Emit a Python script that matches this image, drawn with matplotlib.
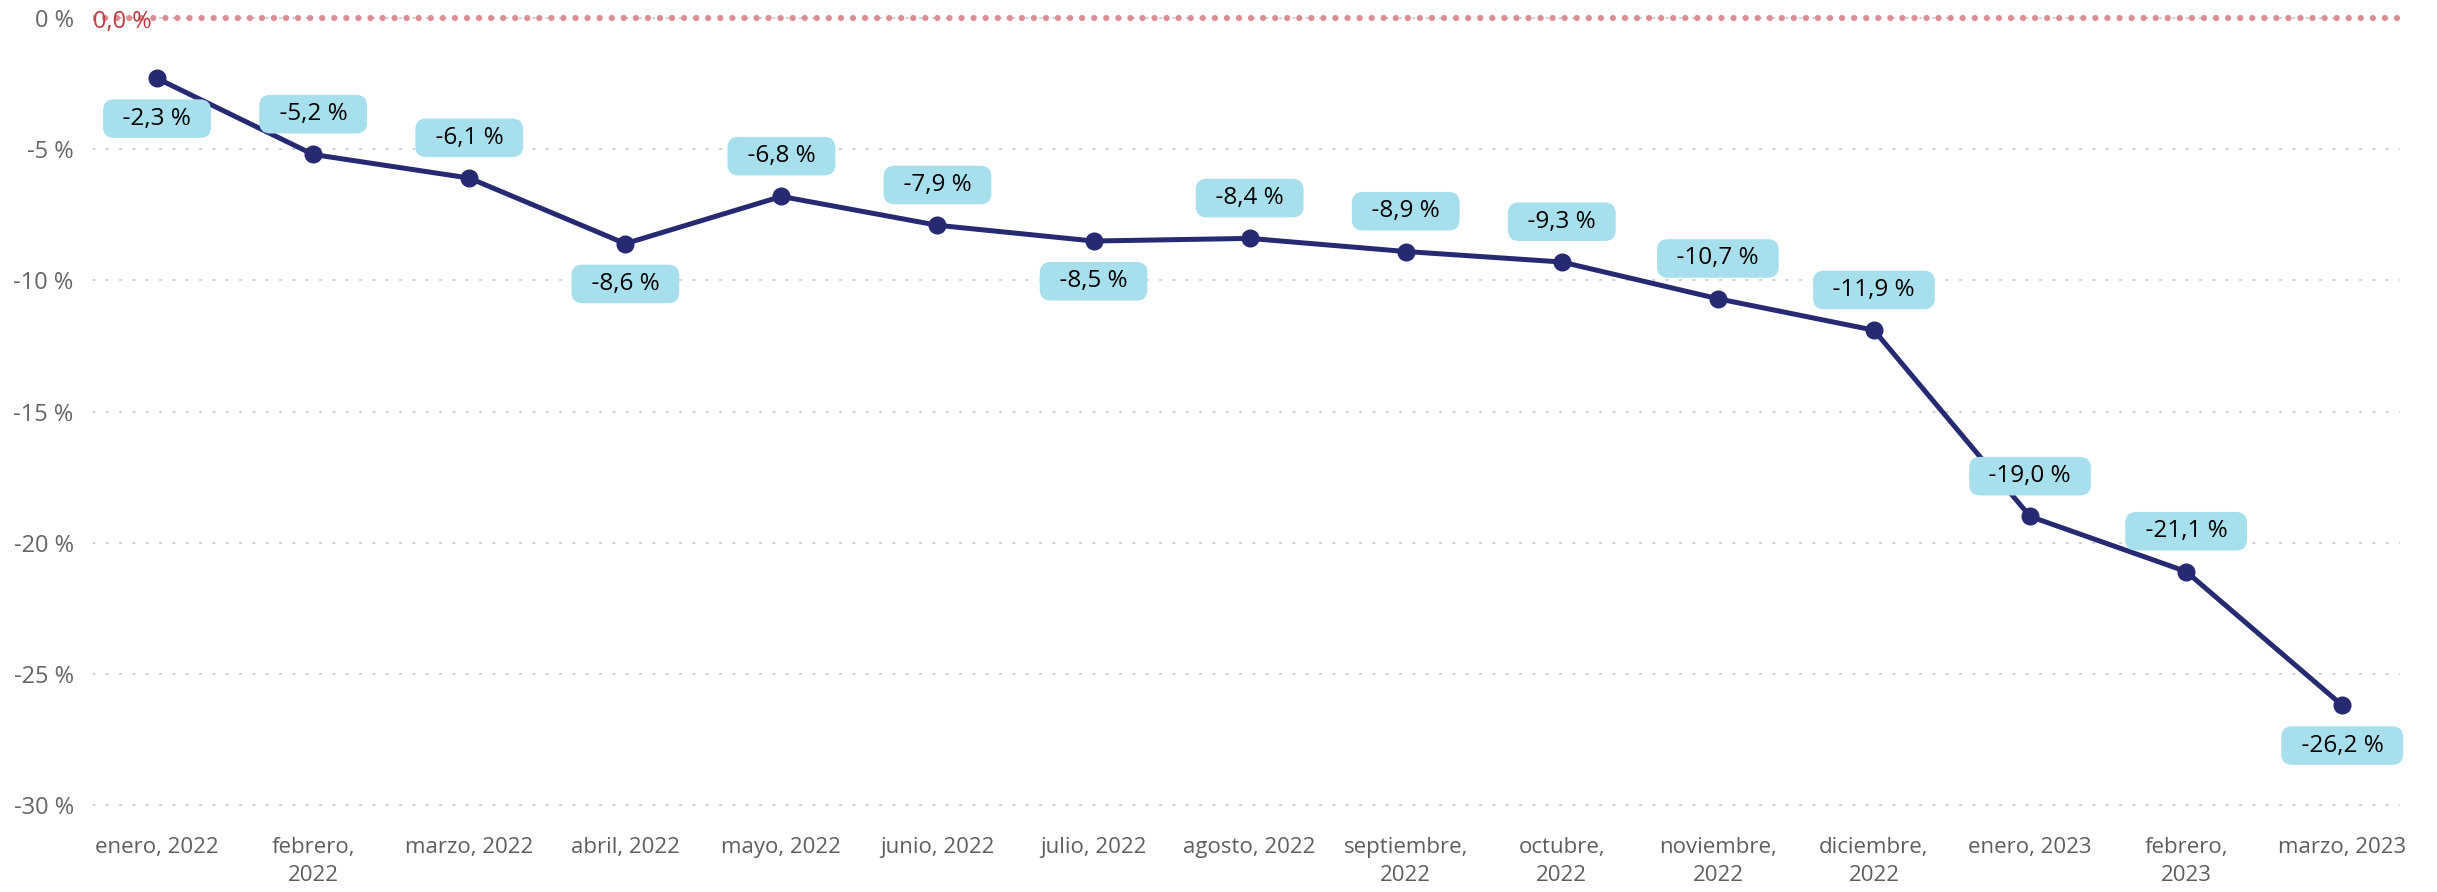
import numpy as np
import matplotlib
matplotlib.use("Agg")
import matplotlib.pyplot as plt

# datos
meses = ["enero, 2022", "febrero,\n2022", "marzo, 2022", "abril, 2022",
         "mayo, 2022", "junio, 2022", "julio, 2022", "agosto, 2022",
         "septiembre,\n2022", "octubre,\n2022", "noviembre,\n2022",
         "diciembre,\n2022", "enero, 2023", "febrero,\n2023", "marzo, 2023"]
variacion = [-2.3, -5.2, -6.1, -8.6, -6.8, -7.9, -8.5, -8.4, -8.9, -9.3,
             -10.7, -11.9, -19.0, -21.1, -26.2]
# posicion de la etiqueta: 1 arriba, -1 abajo
lado = [-1, 1, 1, -1, 1, 1, -1, 1, 1, 1, 1, 1, 1, 1, -1]
yticks = [0, -5, -10, -15, -20, -25, -30]

plt.rcParams['font.family'] = ['Open Sans', 'DejaVu Sans']

fig = plt.figure(figsize=(24.37, 8.92), dpi=100)
ax = fig.add_axes([0.0382, 0.0799, 0.9466, 0.9175])

x = np.arange(len(variacion))

ax.set_xlim(-0.41, 14.37)
ax.set_ylim(-30.6, 0.6)

ax.set_yticks(yticks)
ax.set_yticklabels([f"{v} %" for v in yticks], fontsize=17, color='#666666')
ax.yaxis.grid(True, linestyle=(0, (1, 7)), linewidth=1.2, color='#c6c6c6',
              dash_capstyle='round')
ax.set_xticks(x)
ax.set_xticklabels(meses, fontsize=16, color='#605e5c', linespacing=1.4)
ax.tick_params(axis='both', length=0)
ax.tick_params(axis='y', pad=14)
ax.tick_params(axis='x', pad=12)
for s in ax.spines.values():
    s.set_visible(False)

# linea de referencia 0
ax.axhline(0, color='#dc8e95', linewidth=4.5, linestyle=(0, (0.01, 1.92)),
           dash_capstyle='round', zorder=2)
ax.annotate("0,0 %", xy=(-0.41, 0), xytext=(0, -3), textcoords='offset points',
            ha='left', va='center', fontsize=17, color='#c0393f', zorder=3)

ax.plot(x, variacion, color='#252a72', linewidth=3.6, marker='o',
        markersize=12, zorder=4, clip_on=False)

for xi, v, l in zip(x, variacion, lado):
    txt = "  " + f"{v:.1f}".replace(".", ",") + " %  "
    ax.annotate(txt, xy=(xi, v), xytext=(0, 29 * l), textcoords='offset points',
                ha='center', va='center', fontsize=17.5, color='black', zorder=5,
                bbox=dict(boxstyle='round,pad=0.3,rounding_size=0.45',
                          fc='#a8dfec', ec='none'))

plt.savefig("out.png", dpi=100)
